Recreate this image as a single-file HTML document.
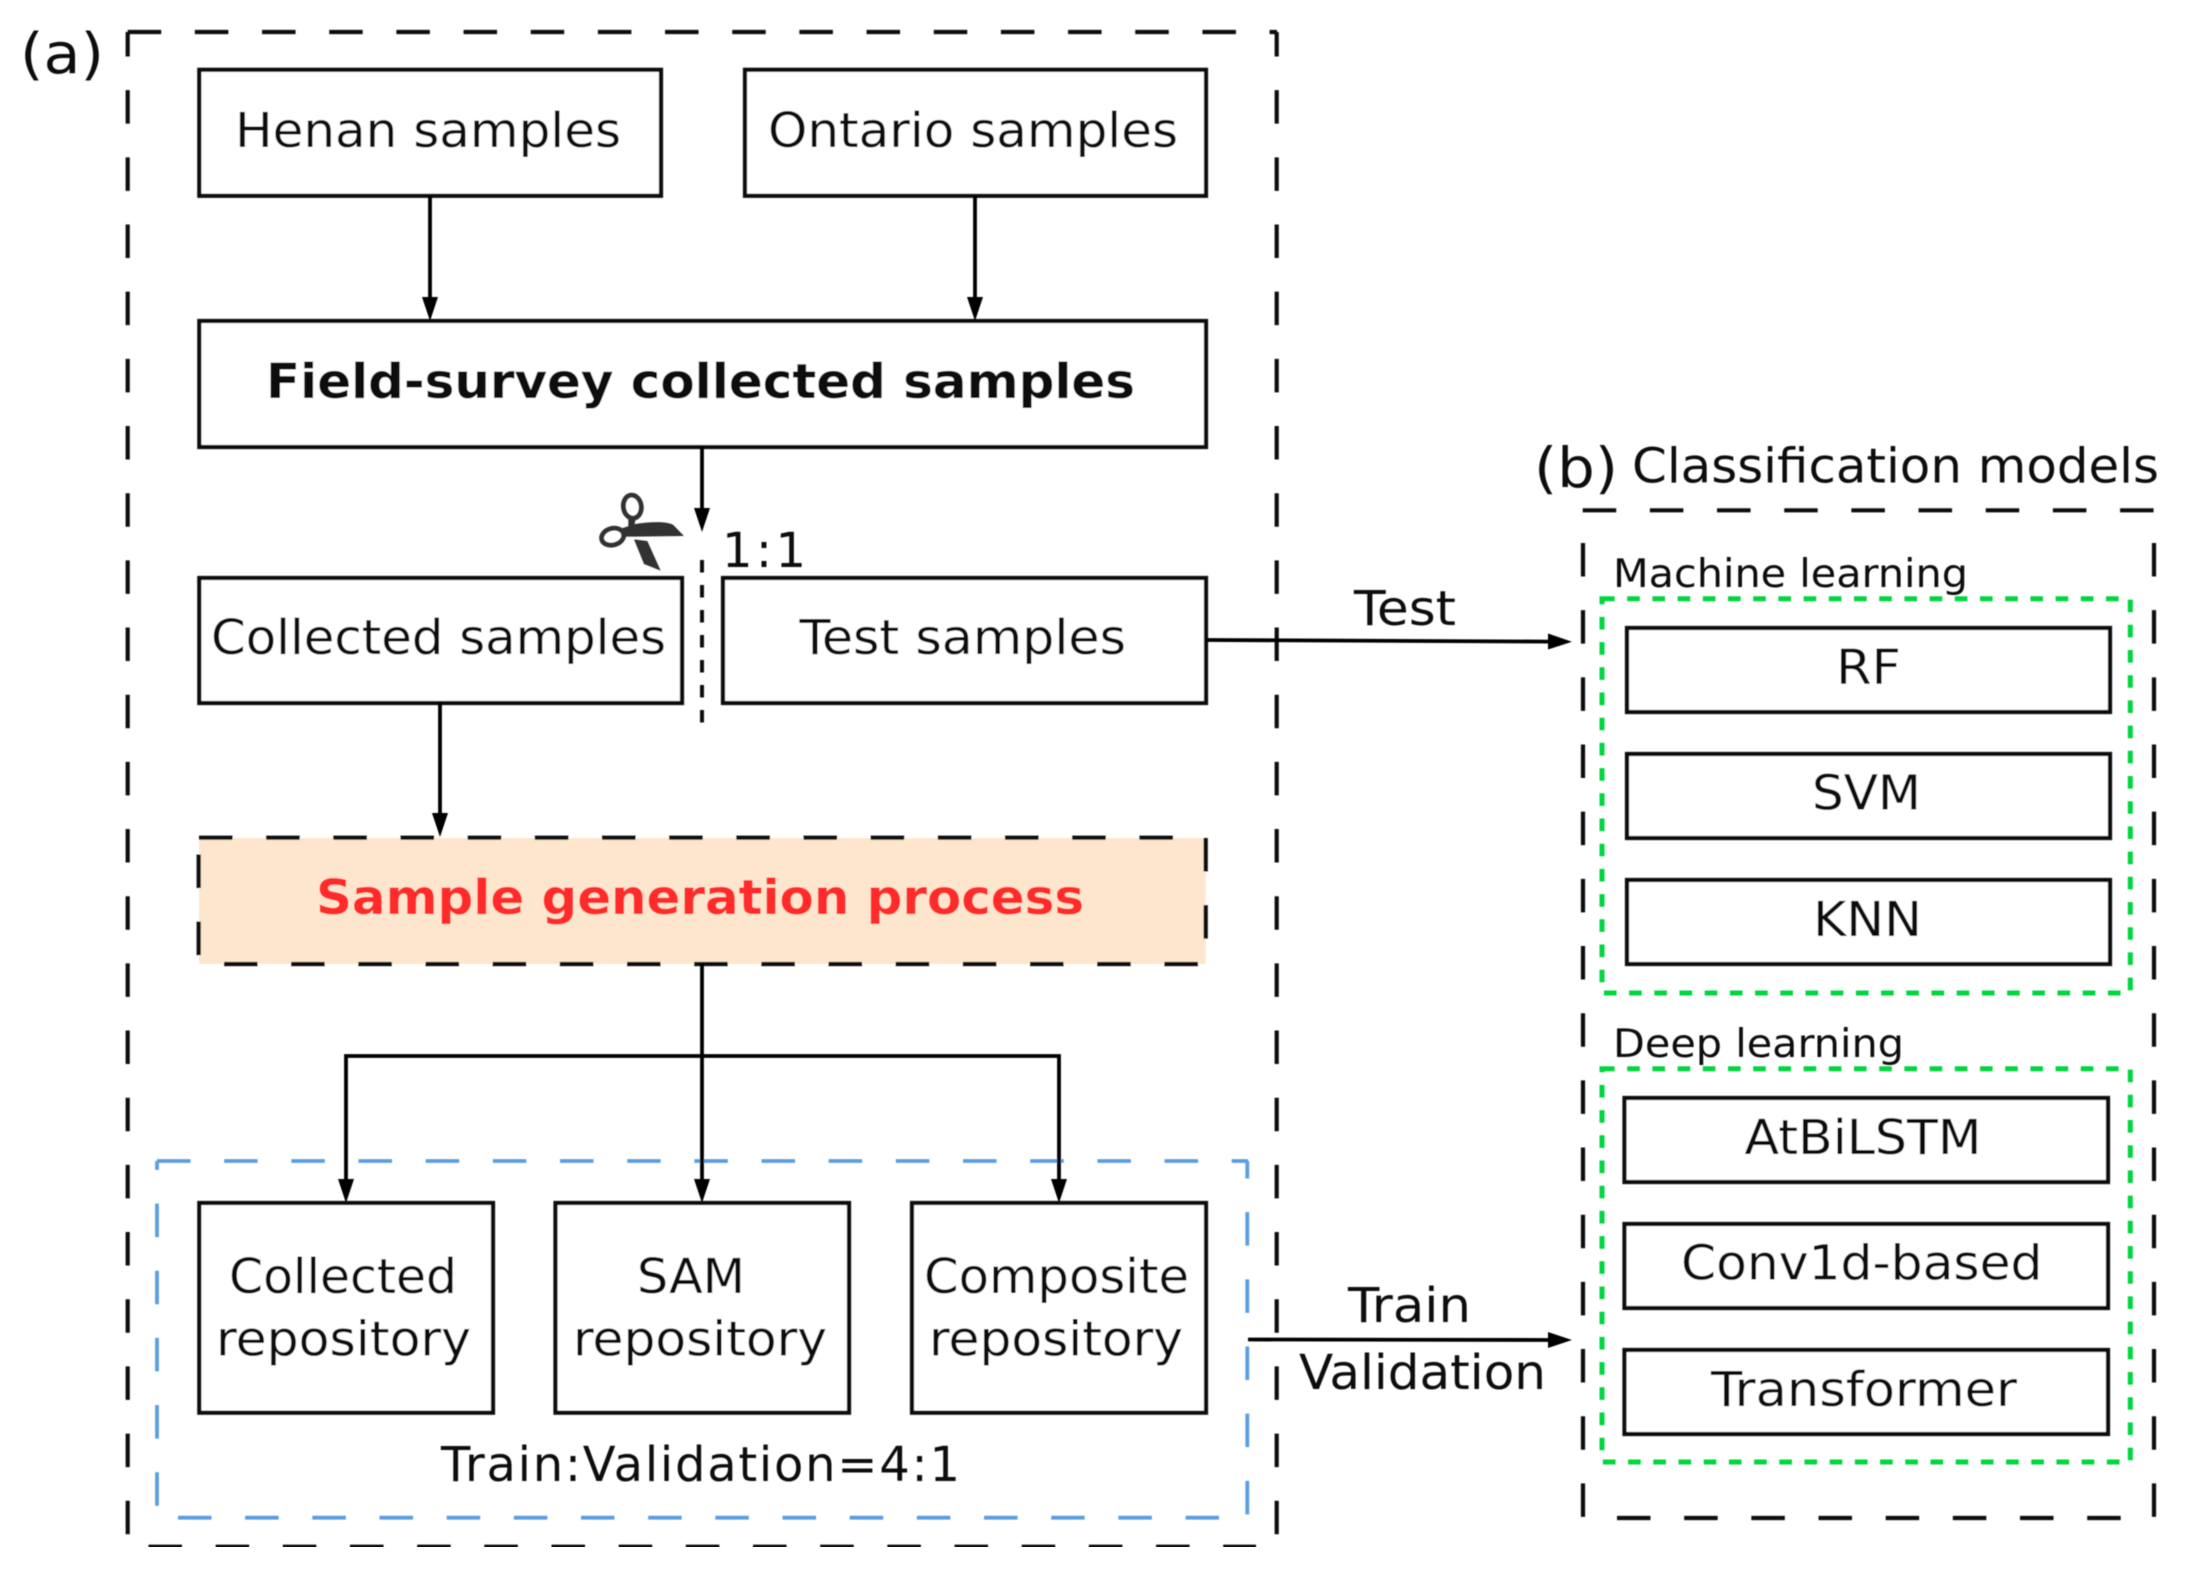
<!DOCTYPE html>
<html lang="en"><head><meta charset="utf-8"><title>Diagram</title>
<style>html,body{margin:0;padding:0;background:#fff}svg{display:block}
text{font-family:"DejaVu Sans","Liberation Sans",sans-serif;font-size:48px;fill:#111}
.b{fill:#fff;stroke:#111;stroke-width:4.2}
.l{stroke:#000;stroke-width:3.8;fill:none}
.h{fill:#000}
.d{stroke:#111;stroke-width:4.2;fill:none;stroke-dasharray:33.5 33.67}
.u{stroke:#5a9ee0;stroke-width:3.8;fill:none;stroke-dasharray:33.5 33.67}
.g{fill:none;stroke:#00d63c;stroke-width:5;stroke-dasharray:12.6 12.6}
</style></head><body>
<svg xmlns="http://www.w3.org/2000/svg" width="2186" height="1579" viewBox="0 0 2186 1579">
<defs><filter id="s" x="0" y="0" width="100%" height="100%"><feGaussianBlur stdDeviation="0.65"/></filter></defs>
<rect width="2186" height="1579" fill="#fff"/>
<g filter="url(#s)">
<!-- outer (a) -->
<line class="d" x1="127.7" y1="32" x2="1277" y2="32"/>
<line class="d" x1="127.7" y1="32" x2="127.7" y2="1535" stroke-dashoffset="9"/>
<line class="d" x1="1276.7" y1="32" x2="1276.7" y2="1535" stroke-dashoffset="9"/>
<line class="d" x1="148.5" y1="1546.7" x2="1256" y2="1546.7"/>
<!-- blue -->
<line class="u" x1="157" y1="1161" x2="1248" y2="1161"/>
<line class="u" x1="157" y1="1161" x2="157" y2="1506" stroke-dashoffset="24.6"/>
<line class="u" x1="1247.3" y1="1161" x2="1247.3" y2="1515" stroke-dashoffset="16"/>
<line class="u" x1="178" y1="1517.7" x2="1219" y2="1517.7"/>
<!-- boxes -->
<rect class="b" x="199.3" y="69.8" width="461.7" height="126"/>
<rect class="b" x="745" y="69.8" width="461" height="126"/>
<rect class="b" x="199.3" y="321" width="1006.7" height="126"/>
<rect class="b" x="199.3" y="578" width="482.7" height="125"/>
<rect class="b" x="723" y="578" width="483" height="125"/>
<rect x="199" y="838" width="1006.7" height="126" fill="#fde6cd"/>
<line class="d" x1="199" y1="837.7" x2="1206" y2="837.7"/>
<line class="d" x1="224" y1="964" x2="1198" y2="964"/>
<line class="d" x1="198.7" y1="854.5" x2="198.7" y2="957"/>
<line class="d" x1="1205.7" y1="838" x2="1205.7" y2="939"/>
<rect class="b" x="199.3" y="1203" width="293.7" height="209.7"/>
<rect class="b" x="555.5" y="1203" width="293.5" height="209.7"/>
<rect class="b" x="912" y="1203" width="294" height="209.7"/>
<!-- connectors -->
<path class="l" d="M430 196V300M975 196V300M702 447V510M440 703V816M702 964V1182M346 1182V1056H1059V1182"/>
<path class="h" d="M422 297h16l-8 24zM967 297h16l-8 24zM694 508h16l-8 24zM432 813h16l-8 24zM338 1179h16l-8 24zM694 1179h16l-8 24zM1051 1179h16l-8 24z"/>
<line x1="702" y1="560" x2="702" y2="725" stroke="#111" stroke-width="4" stroke-dasharray="12.5 12.5"/>
<path class="l" d="M1206 640L1552 641.6M1248 1339.5L1552 1340"/>
<path class="h" d="M1548 633.5L1572 641.7L1548 649.5zM1548 1332L1572 1340L1548 1348z"/>
<!-- scissors -->
<g transform="translate(560 460) scale(.3333)" fill="#333" stroke="none">
<ellipse cx="217" cy="140" rx="27" ry="35" fill="none" stroke="#333" stroke-width="14" transform="rotate(-8 217 140)"/>
<ellipse cx="158" cy="230" rx="34" ry="25" fill="none" stroke="#333" stroke-width="14" transform="rotate(-15 158 230)"/>
<path d="M205 172L228 172L222 200L205 205z"/>
<path d="M185 205L225 192C270 185 320 183 340 195L372 228L225 230L190 230z"/>
<path d="M222 238L262 243L302 332L252 312z"/>
</g>
<!-- outer (b) -->
<line class="d" x1="1582.7" y1="510.3" x2="2154" y2="510.3"/>
<line class="d" x1="1583" y1="543" x2="1583" y2="1518"/>
<line class="d" x1="2154" y1="543" x2="2154" y2="1518"/>
<line class="d" x1="1617" y1="1518" x2="2121" y2="1518"/>
<rect class="g" x="1602" y="598.7" width="528.3" height="394.3"/>
<rect class="g" x="1602" y="1068.7" width="528.3" height="393.3"/>
<rect class="b" x="1627" y="628" width="483" height="84"/>
<rect class="b" x="1627" y="754" width="483" height="84"/>
<rect class="b" x="1627" y="880" width="483" height="84"/>
<rect class="b" x="1624.5" y="1098" width="483.5" height="84"/>
<rect class="b" x="1624.5" y="1224" width="483.5" height="84"/>
<rect class="b" x="1624.5" y="1350" width="483.5" height="84"/>
<!-- text -->
<text x="20" y="73" style="font-size:56px" textLength="84" lengthAdjust="spacingAndGlyphs">(a)</text>
<text x="235" y="147" textLength="386" lengthAdjust="spacingAndGlyphs">Henan samples</text>
<text x="768" y="147" textLength="410" lengthAdjust="spacingAndGlyphs">Ontario samples</text>
<text x="266" y="398" font-weight="700" textLength="869" lengthAdjust="spacingAndGlyphs">Field-survey collected samples</text>
<text x="722" y="567" textLength="84" lengthAdjust="spacing">1:1</text>
<text x="211" y="654" textLength="455" lengthAdjust="spacingAndGlyphs">Collected samples</text>
<text x="799.5" y="654" textLength="326.5" lengthAdjust="spacingAndGlyphs">Test samples</text>
<text x="316" y="914" font-weight="700" style="fill:#ff2a2a" textLength="768" lengthAdjust="spacingAndGlyphs">Sample generation process</text>
<text x="229" y="1293" textLength="228" lengthAdjust="spacingAndGlyphs">Collected</text>
<text x="216" y="1355.5" textLength="255" lengthAdjust="spacingAndGlyphs">repository</text>
<text x="637" y="1293" textLength="108" lengthAdjust="spacingAndGlyphs">SAM</text>
<text x="573" y="1355.5" textLength="254" lengthAdjust="spacingAndGlyphs">repository</text>
<text x="924" y="1293" textLength="265" lengthAdjust="spacingAndGlyphs">Composite</text>
<text x="929" y="1355.5" textLength="254" lengthAdjust="spacingAndGlyphs">repository</text>
<text x="441" y="1481" textLength="519" lengthAdjust="spacing">Train:Validation=4:1</text>
<text x="1534" y="487" style="font-size:55px" textLength="84" lengthAdjust="spacingAndGlyphs">(b)</text>
<text x="1632" y="482.5" textLength="527" lengthAdjust="spacingAndGlyphs">Classification models</text>
<text x="1613" y="587" style="font-size:39px" textLength="355" lengthAdjust="spacingAndGlyphs">Machine learning</text>
<text x="1613" y="1057" style="font-size:39px" textLength="291" lengthAdjust="spacingAndGlyphs">Deep learning</text>
<text x="1354" y="625" textLength="102" lengthAdjust="spacingAndGlyphs">Test</text>
<text x="1348" y="1322" textLength="123" lengthAdjust="spacingAndGlyphs">Train</text>
<text x="1299" y="1389" textLength="247" lengthAdjust="spacingAndGlyphs">Validation</text>
<text x="1836" y="684" textLength="65" lengthAdjust="spacingAndGlyphs">RF</text>
<text x="1812" y="809.5" textLength="109" lengthAdjust="spacingAndGlyphs">SVM</text>
<text x="1813" y="936" textLength="109" lengthAdjust="spacingAndGlyphs">KNN</text>
<text x="1744.5" y="1154" textLength="237" lengthAdjust="spacingAndGlyphs">AtBiLSTM</text>
<text x="1681" y="1279.5" textLength="361.5" lengthAdjust="spacingAndGlyphs">Conv1d-based</text>
<text x="1711" y="1406" textLength="306" lengthAdjust="spacingAndGlyphs">Transformer</text>
</g>
</svg>
</body></html>
